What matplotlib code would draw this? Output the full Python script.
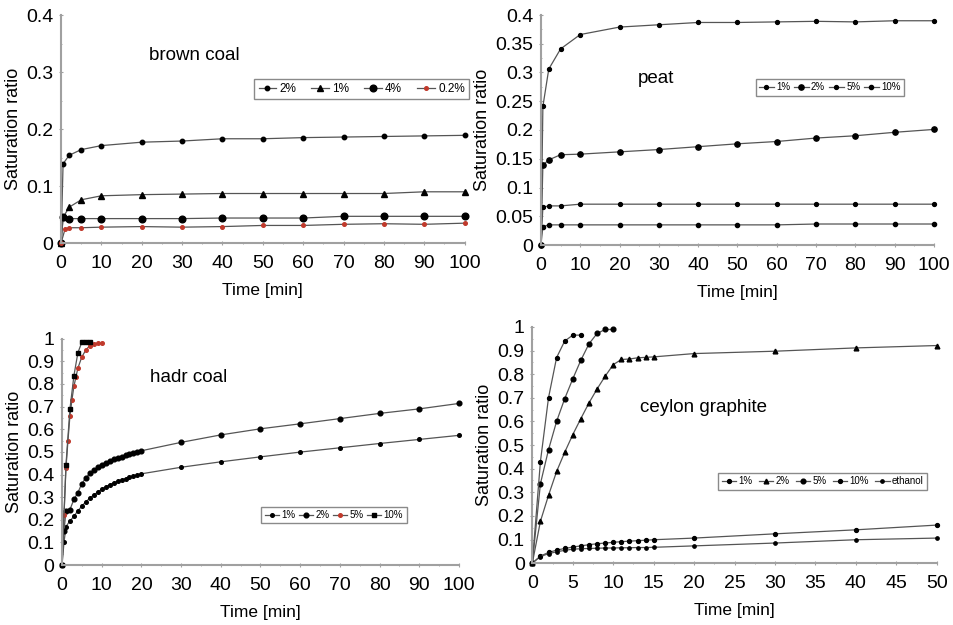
import matplotlib.pyplot as plt
from matplotlib.ticker import MultipleLocator, FuncFormatter

plt.rcParams['font.family'] = ['Liberation Sans', 'DejaVu Sans']

# ---- brown coal ----
bc_t = [0, 0.5, 2, 5, 10, 20, 30, 40, 50, 60, 70, 80, 90, 100]
bc_2 = [0, 0.139, 0.154, 0.164, 0.171, 0.177, 0.179, 0.183, 0.183, 0.185, 0.186, 0.187, 0.188, 0.189]
bc_1 = [0, 0.045, 0.063, 0.076, 0.083, 0.085, 0.086, 0.087, 0.087, 0.087, 0.087, 0.087, 0.090, 0.090]
bc_4 = [0, 0.045, 0.043, 0.043, 0.043, 0.043, 0.043, 0.044, 0.044, 0.044, 0.047, 0.047, 0.047, 0.047]
bc_02_t = [0, 1, 2, 5, 10, 20, 30, 40, 50, 60, 70, 80, 90, 100]
bc_02 = [0, 0.025, 0.027, 0.027, 0.028, 0.029, 0.028, 0.029, 0.031, 0.031, 0.033, 0.034, 0.033, 0.035]

# ---- peat ----
pt_t = [0, 0.5, 2, 5, 10, 20, 30, 40, 50, 60, 70, 80, 90, 100]
pt_1 = [0, 0.241, 0.306, 0.341, 0.366, 0.379, 0.383, 0.387, 0.387, 0.388, 0.389, 0.388, 0.390, 0.390]
pt_2 = [0, 0.139, 0.148, 0.157, 0.158, 0.162, 0.166, 0.171, 0.176, 0.180, 0.186, 0.190, 0.196, 0.201]
pt_5 = [0, 0.066, 0.068, 0.068, 0.071, 0.071, 0.071, 0.071, 0.071, 0.071, 0.071, 0.071, 0.071, 0.071]
pt_10 = [0, 0.032, 0.035, 0.035, 0.035, 0.035, 0.035, 0.035, 0.035, 0.035, 0.0365, 0.0365, 0.0365, 0.0365]

# ---- hadr coal ----
hc_t = [0, 0.5, 1, 2, 3, 4, 5, 6, 7, 8, 9, 10, 11, 12, 13, 14, 15, 16, 17, 18, 19, 20,
        30, 40, 50, 60, 70, 80, 90, 100]
hc_1 = [0, 0.10, 0.17, 0.195, 0.215, 0.24, 0.26, 0.28, 0.295, 0.31, 0.322, 0.335, 0.345, 0.355,
        0.363, 0.37, 0.376, 0.382, 0.388, 0.393, 0.398, 0.403,
        0.432, 0.456, 0.478, 0.499, 0.518, 0.537, 0.555, 0.573]
hc_2 = [0, 0.15, 0.24, 0.245, 0.29, 0.32, 0.36, 0.385, 0.405, 0.42, 0.432, 0.443, 0.452, 0.46,
        0.467, 0.473, 0.479, 0.484, 0.489, 0.494, 0.499, 0.505,
        0.542, 0.575, 0.602, 0.624, 0.647, 0.670, 0.690, 0.714]
hc_5_t = [0, 0.5, 1, 1.5, 2, 2.5, 3, 3.5, 4, 5, 6, 7, 8, 9, 10]
hc_5 = [0, 0.22, 0.43, 0.55, 0.66, 0.73, 0.79, 0.83, 0.87, 0.92, 0.95, 0.97, 0.975, 0.98, 0.98]
hc_10_t = [0, 1, 2, 3, 4, 5, 6, 7]
hc_10 = [0, 0.443, 0.69, 0.837, 0.938, 0.985, 0.985, 0.985]

# ---- ceylon graphite ----
cg_a_t = [0, 1, 2, 3, 4, 5, 6]
cg_a = [0, 0.43, 0.70, 0.87, 0.94, 0.965, 0.965]
cg_b_t = [0, 1, 2, 3, 4, 5, 6, 7, 8, 9, 10]
cg_b = [0, 0.336, 0.48, 0.60, 0.696, 0.78, 0.859, 0.928, 0.972, 0.989, 0.989]
cg_t = [0, 1, 2, 3, 4, 5, 6, 7, 8, 9, 10, 11, 12, 13, 14, 15, 20, 30, 40, 50]
cg_c = [0, 0.177, 0.287, 0.388, 0.469, 0.544, 0.612, 0.678, 0.737, 0.791, 0.840, 0.862,
        0.864, 0.869, 0.871, 0.873, 0.887, 0.897, 0.911, 0.921]
cg_d = [0, 0.03, 0.045, 0.055, 0.062, 0.068, 0.073, 0.078, 0.082, 0.085, 0.088, 0.091,
        0.093, 0.095, 0.097, 0.099, 0.106, 0.124, 0.141, 0.161]
cg_e = [0, 0.028, 0.040, 0.048, 0.054, 0.059, 0.061, 0.062, 0.063, 0.064, 0.064, 0.065,
        0.065, 0.066, 0.066, 0.067, 0.073, 0.085, 0.099, 0.106]

LINE = '#555555'
AXC = '#a0a0a0'
RED = '#c0392b'
fmt = FuncFormatter(lambda v, p: f'{v:g}')


def style(ax, xmax, xstep, ymax, ystep, title, tpos):
    ax.set_xlim(0, xmax)
    ax.set_ylim(0, ymax)
    ax.patch.set_alpha(0)
    ax.xaxis.set_major_locator(MultipleLocator(xstep))
    ax.xaxis.set_minor_locator(MultipleLocator(xstep / 2))
    ax.yaxis.set_major_locator(MultipleLocator(ystep))
    ax.yaxis.set_minor_locator(MultipleLocator(ystep / 2))
    ax.yaxis.set_major_formatter(fmt)
    for s in ['top', 'right']:
        ax.spines[s].set_visible(False)
    for s in ['left', 'bottom']:
        ax.spines[s].set_color(AXC)
        ax.spines[s].set_linewidth(1.5)
    ax.tick_params(which='both', direction='inout', color=AXC, labelsize=14)
    ax.tick_params(axis='x', pad=7)
    ax.tick_params(axis='y', pad=4)
    ax.tick_params(which='major', length=3)
    ax.tick_params(which='minor', length=2)
    ax.set_xlabel('Time [min]', fontsize=12.5, labelpad=8)
    ax.set_ylabel('Saturation ratio', fontsize=13, labelpad=3)
    ax.text(tpos[0], tpos[1], title, transform=ax.transAxes, fontsize=13.5,
            ha='center', va='baseline')


def series(ax, t, y, label, marker='o', ms=3, mc='black'):
    ax.plot(t, y, color=LINE, lw=0.9, marker=marker, ms=ms, mfc=mc, mec=mc,
            label=label, clip_on=False)


def legend(ax, cx, cy, fs, colsp):
    ax.legend(loc='center', bbox_to_anchor=(cx, cy), ncol=5, fontsize=fs,
              fancybox=False, edgecolor='#8a8a8a', framealpha=1,
              handlelength=1.5, handletextpad=0.25, columnspacing=colsp,
              borderpad=0.35, borderaxespad=0)


fig = plt.figure(figsize=(9.54, 6.25), dpi=100)

ax1 = fig.add_axes([0.064, 0.611, 0.423, 0.365])
series(ax1, bc_t, bc_2, '2%', 'o', 3.2)
series(ax1, bc_t, bc_1, '1%', '^', 3.8)
series(ax1, bc_t, bc_4, '4%', 'o', 4.8)
series(ax1, bc_02_t, bc_02, '0.2%', 'o', 2.6, RED)
style(ax1, 100, 10, 0.4, 0.1, 'brown coal', (0.33, 0.803))
legend(ax1, 0.745, 0.675, 8.5, 1.3)

ax2 = fig.add_axes([0.567, 0.608, 0.412, 0.368])
series(ax2, pt_t, pt_1, '1%', 'o', 2.8)
series(ax2, pt_t, pt_2, '2%', 'o', 3.8)
series(ax2, pt_t, pt_5, '5%', 'o', 2.8)
series(ax2, pt_t, pt_10, '10%', 'o', 3.0)
style(ax2, 100, 10, 0.4, 0.05, 'peat', (0.293, 0.704))
legend(ax2, 0.735, 0.685, 7, 0.4)

ax3 = fig.add_axes([0.065, 0.096, 0.416, 0.362])
series(ax3, hc_t, hc_1, '1%', 'o', 2.6)
series(ax3, hc_t, hc_2, '2%', 'o', 3.4)
series(ax3, hc_5_t, hc_5, '5%', 'o', 2.6, RED)
series(ax3, hc_10_t, hc_10, '10%', 's', 3.2)
style(ax3, 100, 10, 1, 0.1, 'hadr coal', (0.32, 0.81))
legend(ax3, 0.685, 0.221, 7, 0.3)

ax4 = fig.add_axes([0.558, 0.099, 0.424, 0.378])
series(ax4, cg_t, cg_d, '1%', 'o', 2.8)
series(ax4, cg_t, cg_c, '2%', '^', 3.4)
series(ax4, cg_b_t, cg_b, '5%', 'o', 3.4)
series(ax4, cg_a_t, cg_a, '10%', 'o', 2.8)
series(ax4, cg_t, cg_e, 'ethanol', 'o', 2.4)
style(ax4, 50, 5, 1, 0.1, 'ceylon graphite', (0.423, 0.641))
legend(ax4, 0.718, 0.347, 7, 0.6)

fig.savefig('out.png', dpi=100)
